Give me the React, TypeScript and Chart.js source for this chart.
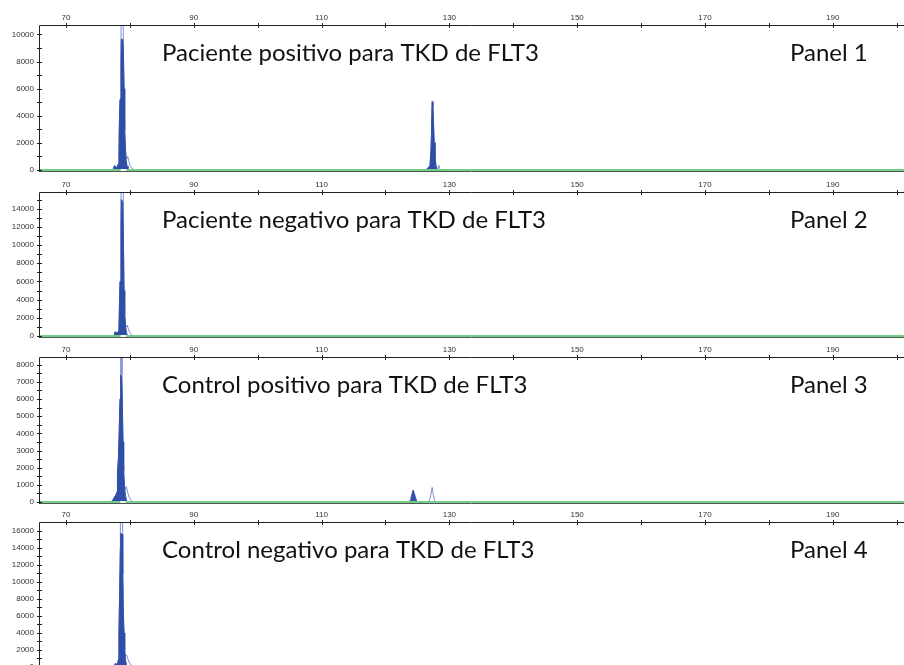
import React, { useEffect, useRef } from "react";
import { Chart, registerables } from "chart.js";
Chart.register(...registerables);

// ---- axis data ----
const X_MIN = 65.77;
const X_MAX = 201.16;
const xTicks = [70, 80, 90, 100, 110, 120, 130, 140, 150, 160, 170, 180, 190, 200];
const xLabelTicks = [70, 90, 110, 130, 150, 170, 190];

const panelTitles = [
  "Paciente positivo para TKD de FLT3",
  "Paciente negativo para TKD de FLT3",
  "Control positivo para TKD de FLT3",
  "Control negativo para TKD de FLT3",
];
const panelNames = ["Panel 1", "Panel 2", "Panel 3", "Panel 4"];
const yMaxValues = [10700, 15840, 8450, 17050];

const p1YTicks = [0, 1000, 2000, 3000, 4000, 5000, 6000, 7000, 8000, 9000, 10000];
const p1YLabels = [0, 2000, 4000, 6000, 8000, 10000];
const p2YTicks = [0, 1000, 2000, 3000, 4000, 5000, 6000, 7000, 8000, 9000, 10000, 11000, 12000, 13000, 14000, 15000];
const p2YLabels = [0, 2000, 4000, 6000, 8000, 10000, 12000, 14000];
const p3YTicks = [0, 500, 1000, 1500, 2000, 2500, 3000, 3500, 4000, 4500, 5000, 5500, 6000, 6500, 7000, 7500, 8000];
const p3YLabels = [0, 1000, 2000, 3000, 4000, 5000, 6000, 7000, 8000];
const p4YTicks = [0, 1000, 2000, 3000, 4000, 5000, 6000, 7000, 8000, 9000, 10000, 11000, 12000, 13000, 14000, 15000, 16000];
const p4YLabels = [0, 2000, 4000, 6000, 8000, 10000, 12000, 14000, 16000];

// ---- Panel 1 ----
const p1FillX = [77.36, 77.5, 77.67, 77.85, 78.0, 78.15, 78.28, 78.32, 78.45, 78.6, 78.66, 78.88, 78.98, 79.08, 79.18, 79.3, 79.42, 79.55, 79.7,
  126.34, 126.65, 126.96, 127.1, 127.2, 127.3, 127.42, 127.52, 127.62, 127.75, 127.9, 128.05, 128.2];
const p1FillY = [0, 250, 320, 150, 220, 420, 650, 2700, 5200, 8200, 9650, 9650, 8800, 6000, 3000, 1500, 700, 300, 0,
  0, 150, 300, 1200, 2600, 5000, 4700, 3400, 2000, 900, 300, 100, 0];
const p1TraceX = [77.3, 77.5, 77.67, 77.85, 78.0, 78.15, 78.28, 78.32, 78.45, 78.6, 78.77, 78.97, 79.08, 79.18, 79.3, 79.42, 79.55, 79.66, 79.8, 80.0, 80.3, 80.8,
  126.3, 126.65, 126.96, 127.1, 127.2, 127.3, 127.42, 127.52, 127.62, 127.75, 127.9, 128.05, 128.2, 128.35, 128.55];
const p1TraceY = [0, 260, 330, 160, 230, 430, 660, 2700, 5200, 9000, 40000, 9000, 6000, 3000, 1500, 800, 900, 1000, 700, 350, 120, 0,
  0, 160, 310, 1250, 2650, 5100, 4800, 3450, 2050, 950, 320, 150, 100, 350, 0];
const p1MarkerX = [78.55, 79.4];

// ---- Panel 2 ----
const p2FillX = [77.55, 77.67, 77.8, 78.0, 78.2, 78.28, 78.32, 78.45, 78.6, 78.66, 78.88, 78.98, 79.08, 79.18, 79.3, 79.45, 79.6];
const p2FillY = [0, 450, 350, 300, 500, 700, 2100, 6000, 12000, 15000, 14800, 10500, 5000, 2500, 1200, 400, 0];
const p2TraceX = [77.5, 77.67, 77.8, 78.0, 78.2, 78.28, 78.32, 78.45, 78.6, 78.78, 78.98, 79.08, 79.18, 79.3, 79.45, 79.58, 79.75, 80.0, 80.5];
const p2TraceY = [0, 470, 370, 320, 520, 720, 2100, 6000, 13000, 60000, 11000, 5000, 2500, 1300, 1000, 1200, 800, 350, 0];
const p2MarkerX = [78.55, 79.4];

// ---- Panel 3 ----
const p3FillX = [77.15, 77.4, 77.6, 77.8, 78.0, 78.05, 78.2, 78.3, 78.45, 78.55, 78.72, 78.82, 78.92, 79.02, 79.15, 79.3, 79.5,
  123.8, 124.05, 124.2, 124.35, 124.5, 124.7, 124.9];
const p3FillY = [0, 150, 300, 400, 600, 1700, 2500, 3800, 6000, 7400, 7300, 5500, 3500, 1800, 900, 400, 0,
  0, 150, 500, 680, 450, 200, 0];
const p3TraceX = [77.0, 77.15, 77.4, 77.6, 77.8, 78.0, 78.05, 78.2, 78.3, 78.45, 78.55, 78.63, 78.75, 78.82, 78.92, 79.02, 79.15, 79.3, 79.4, 79.55, 79.8, 80.1, 80.5,
  123.75, 124.35, 124.95, 126.8, 127.1, 127.3, 127.5, 127.75];
const p3TraceY = [0, 60, 160, 310, 410, 610, 1700, 2500, 3800, 6000, 7400, 30000, 7400, 5500, 3500, 1800, 900, 700, 910, 750, 350, 120, 0,
  0, 700, 0, 0, 400, 850, 400, 0];
const p3MarkerX = [78.5, 79.35];

// ---- Panel 4 ----
const p4FillX = [77.55, 77.7, 77.9, 78.1, 78.22, 78.28, 78.4, 78.5, 78.56, 78.78, 78.88, 78.98, 79.08, 79.18, 79.3, 79.45, 79.6];
const p4FillY = [0, 400, 300, 500, 900, 4000, 9000, 14000, 15700, 15600, 11000, 6000, 4000, 2000, 900, 300, 0];
const p4TraceX = [77.5, 77.7, 77.9, 78.1, 78.22, 78.28, 78.4, 78.5, 78.67, 78.88, 78.98, 79.08, 79.18, 79.3, 79.5, 79.7, 80.0, 80.5];
const p4TraceY = [0, 420, 320, 520, 920, 4000, 9000, 14000, 60000, 11500, 6000, 4000, 2000, 1300, 1400, 900, 400, 0];
const p4MarkerX = [78.5, 79.35];

const panelData = [
  { fillX: p1FillX, fillY: p1FillY, traceX: p1TraceX, traceY: p1TraceY, markerX: p1MarkerX, yTicks: p1YTicks, yLabels: p1YLabels },
  { fillX: p2FillX, fillY: p2FillY, traceX: p2TraceX, traceY: p2TraceY, markerX: p2MarkerX, yTicks: p2YTicks, yLabels: p2YLabels },
  { fillX: p3FillX, fillY: p3FillY, traceX: p3TraceX, traceY: p3TraceY, markerX: p3MarkerX, yTicks: p3YTicks, yLabels: p3YLabels },
  { fillX: p4FillX, fillY: p4FillY, traceX: p4TraceX, traceY: p4TraceY, markerX: p4MarkerX, yTicks: p4YTicks, yLabels: p4YLabels },
];

// ---- layout / style ----
const PANEL_TOPS = [0, 167, 332, 497];
const PLOT_HEIGHTS = [145, 144, 145, 145];
const AXIS_TOP = 25;
const AXIS_LEFT = 39;
const FILL_COLOR = "#2f4ea6";
const TRACE_COLOR = "#7d90d6";
const GREEN = "#72cd86";
const AXIS_COLOR = "#222";
const TICK_FONT = { family: "'Liberation Sans', Arial, sans-serif", size: 8 };

function pts(xs: number[], ys: number[]) {
  return xs.map((x, i) => ({ x, y: ys[i] }));
}

function Panel({ index }: { index: number }) {
  const ref = useRef<HTMLCanvasElement>(null);
  const plotH = PLOT_HEIGHTS[index];
  const H = AXIS_TOP + plotH + 3;
  useEffect(() => {
    const d = panelData[index];
    const title = panelTitles[index];
    const name = panelNames[index];
    const decor = {
      id: "decor" + index,
      afterDraw(chart: any) {
        const ctx = chart.ctx;
        const ca = chart.chartArea;
        const xs = chart.scales.x;
        const ys = chart.scales.y;
        ctx.save();
        // bottom dark line
        ctx.strokeStyle = "#555";
        ctx.lineWidth = 1;
        ctx.beginPath();
        ctx.moveTo(ca.left, Math.round(ca.bottom) + 1.5);
        ctx.lineTo(ca.right, Math.round(ca.bottom) + 1.5);
        ctx.stroke();
        // axes
        ctx.strokeStyle = AXIS_COLOR;
        ctx.beginPath();
        const ty = Math.round(ca.top) + 0.5;
        const lx = Math.round(ca.left) + 0.5;
        ctx.moveTo(lx, ty);
        ctx.lineTo(ca.right, ty);
        ctx.moveTo(lx, ty);
        ctx.lineTo(lx, ca.bottom + 2);
        xs.ticks.forEach((t: any) => {
          const px = Math.round(xs.getPixelForValue(t.value)) + 0.5;
          ctx.moveTo(px, ty - 2.5);
          ctx.lineTo(px, ty + 2.5);
        });
        ys.ticks.forEach((t: any) => {
          const py = Math.round(ys.getPixelForValue(t.value)) + 0.5;
          ctx.moveTo(lx - 2.5, py);
          ctx.lineTo(lx + 2.5, py);
        });
        ctx.stroke();
        // titles
        ctx.font = "20px Lato, 'Open Sans', sans-serif";
        const w = ctx.measureText(panelTitles[0]).width;
        const size = (20 * 377) / w;
        ctx.font = `${size}px Lato, 'Open Sans', sans-serif`;
        ctx.fillStyle = "#111";
        ctx.textBaseline = "alphabetic";
        ctx.textAlign = "left";
        ctx.fillText(title, 162, ca.top + 35.5);
        ctx.fillText(name, 790, ca.top + 35.5);
        ctx.restore();
      },
    };
    const chart = new Chart(ref.current as HTMLCanvasElement, {
      type: "line",
      data: {
        datasets: [
          { label: "marker", data: pts(d.markerX, [0, 0]), borderColor: "#ffffff", borderWidth: 2, pointRadius: 0, order: 0, clip: false } as any,
          { label: "baseline", data: pts([X_MIN, X_MAX], [0, 0]), borderColor: GREEN, borderWidth: 2, pointRadius: 0, order: 1, clip: false } as any,
          { label: "peak", data: pts(d.fillX, d.fillY), borderColor: FILL_COLOR, backgroundColor: FILL_COLOR, fill: "origin", borderWidth: 1, pointRadius: 0, order: 2 } as any,
          { label: "trace", data: pts(d.traceX, d.traceY), borderColor: TRACE_COLOR, borderWidth: 1, pointRadius: 0, fill: false, order: 3 } as any,
        ],
      },
      options: {
        animation: false,
        responsive: false,
        devicePixelRatio: 1,
        events: [],
        layout: { padding: { left: 0, right: 0, top: 0, bottom: 3 } },
        plugins: { legend: { display: false }, tooltip: { enabled: false }, filler: { propagate: false } } as any,
        elements: { point: { radius: 0 }, line: { tension: 0 } },
        scales: {
          x: {
            type: "linear",
            position: "top",
            min: X_MIN,
            max: X_MAX,
            afterBuildTicks: (s: any) => {
              s.ticks = xTicks.map((v) => ({ value: v }));
            },
            afterFit: (s: any) => {
              s.height = AXIS_TOP;
              s.paddingLeft = 0;
              s.paddingRight = 0;
            },
            grid: { display: false, drawTicks: false },
            border: { display: false },
            ticks: {
              autoSkip: false,
              maxRotation: 0,
              minRotation: 0,
              padding: 2,
              color: "#333",
              font: TICK_FONT,
              callback: (v: any) => (xLabelTicks.includes(Number(v)) ? String(v) : ""),
            },
          },
          y: {
            type: "linear",
            position: "left",
            min: 0,
            max: yMaxValues[index],
            afterBuildTicks: (s: any) => {
              s.ticks = d.yTicks.map((v) => ({ value: v }));
            },
            afterFit: (s: any) => {
              s.width = AXIS_LEFT;
              s.paddingTop = 0;
              s.paddingBottom = 0;
            },
            grid: { display: false, drawTicks: false },
            border: { display: false },
            ticks: {
              autoSkip: false,
              padding: 5,
              color: "#333",
              font: TICK_FONT,
              callback: (v: any) => (d.yLabels.includes(Number(v)) ? String(v) : ""),
            },
          },
        },
      } as any,
      plugins: [decor],
    });
    return () => chart.destroy();
  }, [index]);
  return (
    <canvas
      ref={ref}
      width={904}
      height={H}
      style={{ position: "absolute", left: 0, top: PANEL_TOPS[index], width: 904, height: H, display: "block" }}
    />
  );
}

export default function App() {
  return (
    <div style={{ position: "absolute", left: 0, top: 0, width: 904, height: 665, overflow: "hidden", background: "#fff" }}>
      {[0, 1, 2, 3].map((i) => (
        <Panel key={i} index={i} />
      ))}
    </div>
  );
}
